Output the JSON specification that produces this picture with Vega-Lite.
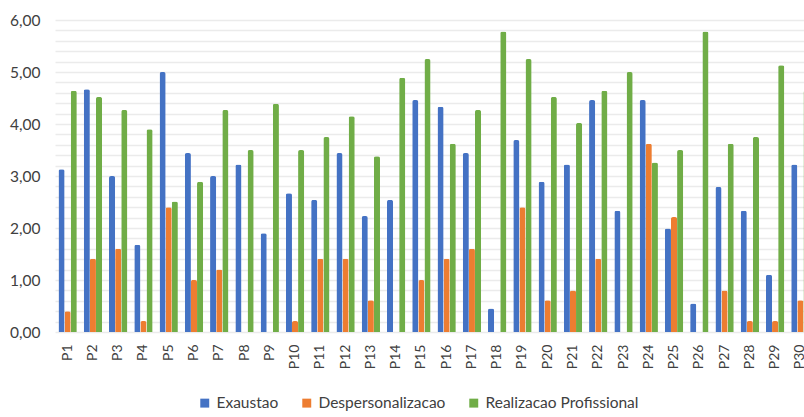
{
  "$schema": "https://vega.github.io/schema/vega-lite/v6.json",
  "width": 758,
  "height": 312,
  "padding": {"left": 0, "top": 13, "right": 0, "bottom": 5},
  "background": "white",
  "config": {
    "view": {"stroke": null},
    "font": "Lato",
    "axis": {"labelColor": "#404040", "labelFont": "Lato"},
    "legend": {"labelColor": "#404040", "labelFont": "Lato"}
  },
  "datasets": {
    "scores": [
      {"p": "P1", "s": "Exaustao", "v": 3.13}, {"p": "P1", "s": "Despersonalizacao", "v": 0.40}, {"p": "P1", "s": "Realizacao Profissional", "v": 4.64},
      {"p": "P2", "s": "Exaustao", "v": 4.67}, {"p": "P2", "s": "Despersonalizacao", "v": 1.41}, {"p": "P2", "s": "Realizacao Profissional", "v": 4.52},
      {"p": "P3", "s": "Exaustao", "v": 3.00}, {"p": "P3", "s": "Despersonalizacao", "v": 1.60}, {"p": "P3", "s": "Realizacao Profissional", "v": 4.27},
      {"p": "P4", "s": "Exaustao", "v": 1.68}, {"p": "P4", "s": "Despersonalizacao", "v": 0.21}, {"p": "P4", "s": "Realizacao Profissional", "v": 3.90},
      {"p": "P5", "s": "Exaustao", "v": 5.00}, {"p": "P5", "s": "Despersonalizacao", "v": 2.40}, {"p": "P5", "s": "Realizacao Profissional", "v": 2.51},
      {"p": "P6", "s": "Exaustao", "v": 3.44}, {"p": "P6", "s": "Despersonalizacao", "v": 1.00}, {"p": "P6", "s": "Realizacao Profissional", "v": 2.89},
      {"p": "P7", "s": "Exaustao", "v": 3.00}, {"p": "P7", "s": "Despersonalizacao", "v": 1.20}, {"p": "P7", "s": "Realizacao Profissional", "v": 4.27},
      {"p": "P8", "s": "Exaustao", "v": 3.22}, {"p": "P8", "s": "Despersonalizacao", "v": 0.00}, {"p": "P8", "s": "Realizacao Profissional", "v": 3.50},
      {"p": "P9", "s": "Exaustao", "v": 1.90}, {"p": "P9", "s": "Despersonalizacao", "v": 0.00}, {"p": "P9", "s": "Realizacao Profissional", "v": 4.39},
      {"p": "P10", "s": "Exaustao", "v": 2.67}, {"p": "P10", "s": "Despersonalizacao", "v": 0.21}, {"p": "P10", "s": "Realizacao Profissional", "v": 3.50},
      {"p": "P11", "s": "Exaustao", "v": 2.54}, {"p": "P11", "s": "Despersonalizacao", "v": 1.41}, {"p": "P11", "s": "Realizacao Profissional", "v": 3.75},
      {"p": "P12", "s": "Exaustao", "v": 3.44}, {"p": "P12", "s": "Despersonalizacao", "v": 1.41}, {"p": "P12", "s": "Realizacao Profissional", "v": 4.15},
      {"p": "P13", "s": "Exaustao", "v": 2.23}, {"p": "P13", "s": "Despersonalizacao", "v": 0.61}, {"p": "P13", "s": "Realizacao Profissional", "v": 3.38},
      {"p": "P14", "s": "Exaustao", "v": 2.54}, {"p": "P14", "s": "Despersonalizacao", "v": 0.00}, {"p": "P14", "s": "Realizacao Profissional", "v": 4.89},
      {"p": "P15", "s": "Exaustao", "v": 4.46}, {"p": "P15", "s": "Despersonalizacao", "v": 1.00}, {"p": "P15", "s": "Realizacao Profissional", "v": 5.25},
      {"p": "P16", "s": "Exaustao", "v": 4.33}, {"p": "P16", "s": "Despersonalizacao", "v": 1.41}, {"p": "P16", "s": "Realizacao Profissional", "v": 3.62},
      {"p": "P17", "s": "Exaustao", "v": 3.44}, {"p": "P17", "s": "Despersonalizacao", "v": 1.60}, {"p": "P17", "s": "Realizacao Profissional", "v": 4.27},
      {"p": "P18", "s": "Exaustao", "v": 0.45}, {"p": "P18", "s": "Despersonalizacao", "v": 0.00}, {"p": "P18", "s": "Realizacao Profissional", "v": 5.78},
      {"p": "P19", "s": "Exaustao", "v": 3.69}, {"p": "P19", "s": "Despersonalizacao", "v": 2.40}, {"p": "P19", "s": "Realizacao Profissional", "v": 5.25},
      {"p": "P20", "s": "Exaustao", "v": 2.89}, {"p": "P20", "s": "Despersonalizacao", "v": 0.61}, {"p": "P20", "s": "Realizacao Profissional", "v": 4.52},
      {"p": "P21", "s": "Exaustao", "v": 3.22}, {"p": "P21", "s": "Despersonalizacao", "v": 0.80}, {"p": "P21", "s": "Realizacao Profissional", "v": 4.02},
      {"p": "P22", "s": "Exaustao", "v": 4.46}, {"p": "P22", "s": "Despersonalizacao", "v": 1.41}, {"p": "P22", "s": "Realizacao Profissional", "v": 4.64},
      {"p": "P23", "s": "Exaustao", "v": 2.33}, {"p": "P23", "s": "Despersonalizacao", "v": 0.00}, {"p": "P23", "s": "Realizacao Profissional", "v": 5.00},
      {"p": "P24", "s": "Exaustao", "v": 4.46}, {"p": "P24", "s": "Despersonalizacao", "v": 3.62}, {"p": "P24", "s": "Realizacao Profissional", "v": 3.26},
      {"p": "P25", "s": "Exaustao", "v": 1.99}, {"p": "P25", "s": "Despersonalizacao", "v": 2.21}, {"p": "P25", "s": "Realizacao Profissional", "v": 3.50},
      {"p": "P26", "s": "Exaustao", "v": 0.55}, {"p": "P26", "s": "Despersonalizacao", "v": 0.00}, {"p": "P26", "s": "Realizacao Profissional", "v": 5.78},
      {"p": "P27", "s": "Exaustao", "v": 2.79}, {"p": "P27", "s": "Despersonalizacao", "v": 0.80}, {"p": "P27", "s": "Realizacao Profissional", "v": 3.62},
      {"p": "P28", "s": "Exaustao", "v": 2.33}, {"p": "P28", "s": "Despersonalizacao", "v": 0.21}, {"p": "P28", "s": "Realizacao Profissional", "v": 3.75},
      {"p": "P29", "s": "Exaustao", "v": 1.10}, {"p": "P29", "s": "Despersonalizacao", "v": 0.21}, {"p": "P29", "s": "Realizacao Profissional", "v": 5.13},
      {"p": "P30", "s": "Exaustao", "v": 3.22}, {"p": "P30", "s": "Despersonalizacao", "v": 0.61}, {"p": "P30", "s": "Realizacao Profissional", "v": 4.64}
    ]
  },
  "data": {"name": "scores"},
  "mark": {"type": "bar", "cornerRadiusEnd": 2},
  "encoding": {
    "x": {
      "field": "p", "type": "nominal", "sort": null,
      "scale": {"paddingInner": 0.275, "paddingOuter": 0.1375},
      "axis": {"title": null, "labelAngle": -90, "labelFontSize": 14, "labelPadding": 12, "ticks": false, "domain": false, "labelBaseline": "middle"}
    },
    "xOffset": {
      "field": "s", "type": "nominal",
      "sort": ["Exaustao", "Despersonalizacao", "Realizacao Profissional"],
      "scale": {"paddingInner": 0, "paddingOuter": 0}
    },
    "y": {
      "field": "v", "type": "quantitative",
      "scale": {"domain": [0, 6], "nice": false},
      "axis": {
        "title": null,
        "values": [0, 0.2, 0.4, 0.6, 0.8, 1, 1.2, 1.4, 1.6, 1.8, 2, 2.2, 2.4, 2.6, 2.8, 3, 3.2, 3.4, 3.6, 3.8, 4, 4.2, 4.4, 4.6, 4.8, 5, 5.2, 5.4, 5.6, 5.8, 6],
        "labelExpr": "abs(datum.value - round(datum.value)) < 0.001 ? replace(format(datum.value, '.2f'), '.', ',') : ''",
        "labelFontSize": 15.5, "labelPadding": 15, "ticks": false, "domain": false,
        "gridColor": "#ebebeb", "gridWidth": 1.5,
        "minExtent": 55, "maxExtent": 55
      }
    },
    "color": {
      "field": "s", "type": "nominal",
      "sort": ["Exaustao", "Despersonalizacao", "Realizacao Profissional"],
      "scale": {"domain": ["Exaustao", "Despersonalizacao", "Realizacao Profissional"], "range": ["#4472C4", "#ED7D31", "#70AD47"]},
      "legend": {"title": null, "orient": "none", "legendX": 142, "legendY": 375, "direction": "horizontal", "symbolType": "square", "symbolSize": 80, "labelFontSize": 15.5, "columnPadding": 20, "symbolStrokeWidth": 0}
    }
  }
}
